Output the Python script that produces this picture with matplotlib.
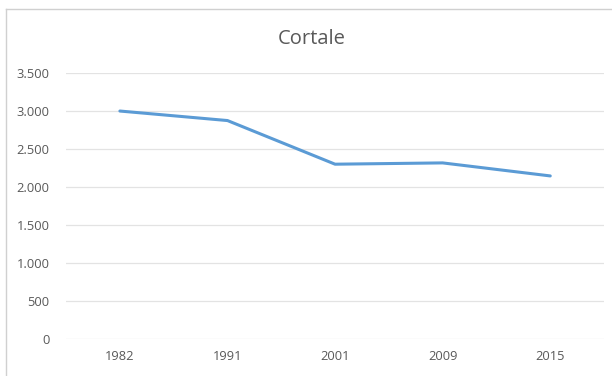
import matplotlib.pyplot as plt
import matplotlib.ticker as mticker
from matplotlib.lines import Line2D

# Dati della serie
anni = ["1982", "1991", "2001", "2009", "2015"]
abitanti = [2995, 2870, 2297, 2314, 2143]
y_ticks = [0, 500, 1000, 1500, 2000, 2500, 3000, 3500]

fig = plt.figure(figsize=(6.12, 3.76), dpi=100)
ax = fig.add_axes([0.108, 0.098, 0.879, 0.709])

x = list(range(len(anni)))
ax.plot(x, abitanti, color="#5B9BD5", linewidth=2.2, solid_capstyle="round")

ax.set_xlim(-0.5, len(anni) - 0.5)
ax.set_ylim(0, 3500)
ax.set_xticks(x)
ax.set_xticklabels(anni)
ax.set_yticks(y_ticks)
ax.yaxis.set_major_formatter(
    mticker.FuncFormatter(lambda v, _: f"{v:,.0f}".replace(",", "."))
)

# Stile tipo Excel
for s in ax.spines.values():
    s.set_visible(False)
ax.grid(axis="y", color="#E3E3E3", linewidth=0.9)
ax.set_axisbelow(True)
ax.tick_params(axis="both", length=0, labelsize=9.3, labelcolor="#595959")
ax.tick_params(axis="y", pad=12)
ax.tick_params(axis="x", pad=8)
for lab in ax.get_xticklabels() + ax.get_yticklabels():
    lab.set_family("Open Sans")

fig.text(0.51, 0.897, "Cortale", ha="center", va="center",
         fontsize=14.5, color="#595959", family="Open Sans")

# Bordo del grafico
fig.add_artist(Line2D([0.009, 1.0], [0.976, 0.976], transform=fig.transFigure,
                      color="#D0D0D0", linewidth=1))
fig.add_artist(Line2D([0.009, 0.009], [0.0, 0.976], transform=fig.transFigure,
                      color="#D0D0D0", linewidth=1))

plt.savefig("out.png", dpi=100)
plt.close()
